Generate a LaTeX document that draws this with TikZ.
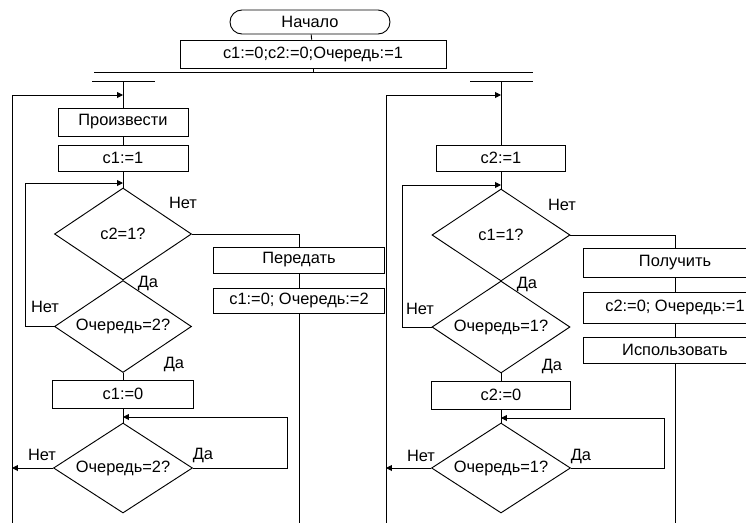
\documentclass[tikz,border=0pt]{standalone}
\usepackage{fontspec}
\setmainfont{Liberation Sans}
\usetikzlibrary{shapes.geometric, arrows.meta, positioning, calc}

\begin{document}
\begin{tikzpicture}[
    x=0.03cm, y=-0.03cm,
    line width=0.8pt,
    every node/.style={font=\fontsize{14}{16}\selectfont},
    block/.style={rectangle, draw, minimum width=3.9cm, minimum height=0.8cm, inner sep=0pt},
    decision/.style={diamond, draw, aspect=1.5, minimum width=4.11cm, minimum height=2.76cm, inner sep=0pt},
    terminal/.style={rectangle, draw, rounded corners=0.36cm, minimum width=4.8cm, minimum height=0.72cm, inner sep=0pt},
    arrow/.style={-{Triangle[length=5pt,width=5pt]}},
    lbl/.style={inner sep=1pt}
]

\useasboundingbox (0,0) rectangle (746,522);
\clip (0,0) rectangle (746,522);

% start and init
\node[terminal] (start) at (310,22) {Начало};
\node[block, minimum width=7.98cm, minimum height=0.84cm] (init) at (313,54) {c1:=0;c2:=0;Очередь:=1};

\coordinate (fork) at (313,72);
\coordinate (lfork) at (123,81);
\coordinate (rfork) at (501,81);
\draw (94,72) -- (533,72);
\draw (92,81) -- (155,81);
\draw (470,81) -- (533,81);

\draw (start) -- (init);
\draw (init) -- (fork);

% left process
\node[block, minimum height=0.84cm] (prod) at (123,122) {Произвести};
\node[block, minimum height=0.78cm] (set1) at (123,158) {c1:=1};
\node[decision] (ask1) at (123,234) {c2=1?};
\node[decision] (turn1) at (123,326.5) {Очередь=2?};
\node[block, minimum width=5.13cm, minimum height=0.78cm] (pass) at (299,260) {Передать};
\node[block, minimum width=5.13cm, minimum height=0.75cm] (free1) at (299,300.5) {c1:=0; Очередь:=2};
\node[block, minimum width=4.23cm, minimum height=0.84cm] (clr1) at (123,394) {c1:=0};
\node[decision, minimum width=4.17cm, minimum height=2.7cm] (wait1) at (123,468) {Очередь=2?};

\coordinate (lback) at (12,95);
\coordinate (lend) at (12,530);
\coordinate (loop1) at (25,183);
\coordinate (yes1) at (287,417);

\draw (lfork) -- (prod);
\draw (prod) -- (set1);
\draw (set1) -- (ask1);
\draw[arrow] (lend) -- (lback) -- (lback -| prod);
\draw[arrow] (turn1.west) -| (loop1) -- (loop1 -| ask1);
\draw (ask1.east) -| (pass.north);
\draw (pass) -- (free1);
\draw (free1.south) -- (free1.south |- lend);
\draw (turn1.south) -- (clr1);
\draw (clr1) -- (wait1);
\draw[arrow] (wait1.east) -| (yes1) -- (yes1 -| wait1.north);
\draw[arrow] (wait1.west) -- (wait1.west -| lend);

\node[lbl] (no1) at (183,203) {Нет};
\node[lbl] (yes1a) at (148,283) {Да};
\node[lbl] (no2) at (45,307) {Нет};
\node[lbl] (yes2) at (174,364) {Да};
\node[lbl] (no3) at (42,455) {Нет};
\node[lbl] (yes3) at (203,455) {Да};

% right process
\node[block, minimum width=3.87cm, minimum height=0.78cm] (set2) at (501,158) {c2:=1};
\node[decision, minimum width=4.14cm] (ask2) at (501,235) {c1=1?};
\node[decision, minimum width=4.14cm] (turn2) at (501,327) {Очередь=1?};
\node[block, minimum width=5.52cm, minimum height=0.87cm] (get) at (675,262.5) {Получить};
\node[block, minimum width=5.52cm, minimum height=0.93cm] (free2) at (675,307.5) {c2:=0; Очередь:=1};
\node[block, minimum width=5.52cm, minimum height=0.78cm] (use) at (675,350) {Использовать};
\node[block, minimum width=4.17cm, minimum height=0.84cm] (clr2) at (501,395) {c2:=0};
\node[decision, minimum width=4.17cm, minimum height=2.7cm] (wait2) at (501,468) {Очередь=1?};

\coordinate (rback) at (386,95);
\coordinate (rend) at (386,530);
\coordinate (loop2) at (402,185);
\coordinate (yes4) at (664,418);

\draw (rfork) -- (set2);
\draw (set2) -- (ask2);
\draw[arrow] (rend) -- (rback) -- (rback -| set2);
\draw[arrow] (turn2.west) -| (loop2) -- (loop2 -| ask2);
\draw (ask2.east) -| (get.north);
\draw (get) -- (free2);
\draw (free2) -- (use);
\draw (use.south) -- (use.south |- rend);
\draw (turn2.south) -- (clr2);
\draw (clr2) -- (wait2);
\draw[arrow] (wait2.east) -| (yes4) -- (yes4 -| wait2.north);
\draw[arrow] (wait2.west) -- (wait2.west -| rend);

\node[lbl] (no4) at (562,205) {Нет};
\node[lbl] (yes4a) at (527,284) {Да};
\node[lbl] (no5) at (420,309) {Нет};
\node[lbl] (yes5) at (552,366) {Да};
\node[lbl] (no6) at (421,456) {Нет};
\node[lbl] (yes6) at (581,456) {Да};

\end{tikzpicture}
\end{document}
